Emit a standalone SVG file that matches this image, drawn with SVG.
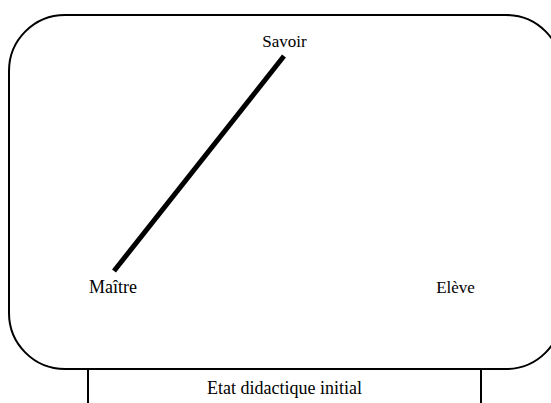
<svg xmlns="http://www.w3.org/2000/svg" width="551" height="403" viewBox="0 0 551 403">
<style>
.s{fill:none;stroke:#000;stroke-width:2}
text{font-family:"Liberation Serif","Times New Roman",serif;font-size:17px;fill:#000;text-anchor:middle}
.big{font-size:18px}
</style>
<rect width="551" height="403" fill="#fff"/>
<g id="frame"><rect class="s" x="9" y="15" width="553" height="354" rx="56" ry="56"/></g>
<g id="caption"><path class="s" d="M88,369 V403 M481,369 V403"/><text class="big" x="284.5" y="394">Etat didactique initial</text></g>
<g id="savoir"><text x="284.5" y="47">Savoir</text></g>
<g id="maitre"><text class="big" x="113" y="293">Maître</text></g>
<g id="eleve"><text x="455.5" y="293">Elève</text></g>
<g id="connectors"><line x1="114" y1="271" x2="284" y2="56" stroke="#000" stroke-width="5"/></g>
</svg>
